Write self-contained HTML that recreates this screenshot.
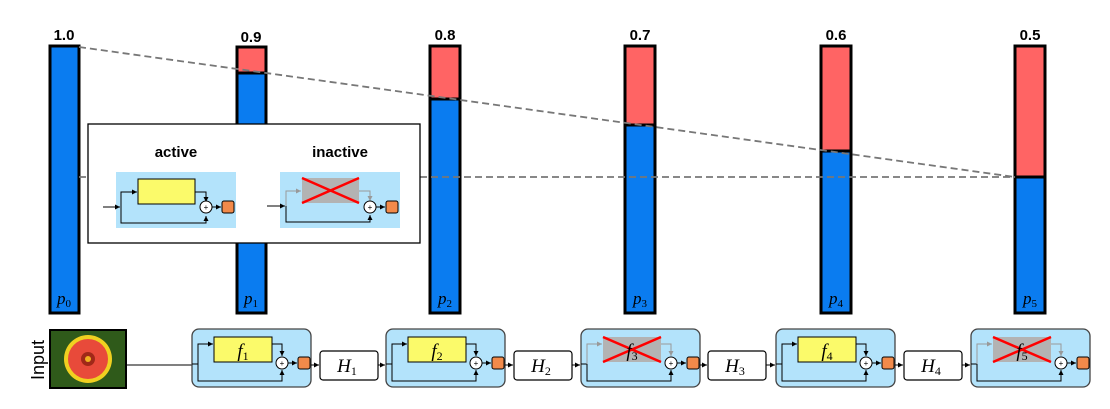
<!DOCTYPE html>
<html><head><meta charset="utf-8"><style>body{margin:0;background:#fff}svg{display:block}</style></head><body>
<svg width="1110" height="409" viewBox="0 0 1110 409" xmlns="http://www.w3.org/2000/svg" font-family="Liberation Sans, sans-serif">
<defs>
<marker id="a" markerWidth="6" markerHeight="6" refX="5" refY="3" orient="auto"><path d="M0,0.5 L5,3 L0,5.5z" fill="#000"/></marker>
<marker id="ag" markerWidth="6" markerHeight="6" refX="5" refY="3" orient="auto"><path d="M0,0.5 L5,3 L0,5.5z" fill="#999"/></marker>
<g id="act">
<rect x="0" y="0" width="119" height="58" rx="7" fill="#b3e3fb" stroke="#444" stroke-width="1.3"/>
<line x1="0" y1="35" x2="6" y2="35" stroke="#000"/>
<polyline points="6,35 6,15 21,15" fill="none" stroke="#000" marker-end="url(#a)"/>
<polyline points="6,35 6,52 90,52 90,41" fill="none" stroke="#000" marker-end="url(#a)"/>
<rect x="22" y="8" width="58" height="25" fill="#fbfa6a" stroke="#000"/>
<polyline points="80,15 90,15 90,27" fill="none" stroke="#000" marker-end="url(#a)"/>
<circle cx="90" cy="34" r="6" fill="#fff" stroke="#000"/>
<text x="90" y="37" font-size="8" text-anchor="middle">+</text>
<line x1="96" y1="34" x2="105" y2="34" stroke="#000" marker-end="url(#a)"/>
<rect x="106" y="28" width="12" height="12" rx="2" fill="#f28a4a" stroke="#000"/>
</g>
<g id="inact">
<rect x="0" y="0" width="119" height="58" rx="7" fill="#b3e3fb" stroke="#444" stroke-width="1.3"/>
<line x1="0" y1="35" x2="6" y2="35" stroke="#000"/>
<polyline points="6,35 6,15 21,15" fill="none" stroke="#999" marker-end="url(#ag)"/>
<polyline points="6,35 6,52 90,52 90,41" fill="none" stroke="#000" marker-end="url(#a)"/>
<rect x="22" y="8" width="58" height="25" fill="#b3b3b3"/>
<polyline points="80,15 90,15 90,27" fill="none" stroke="#999" marker-end="url(#ag)"/>
<circle cx="90" cy="34" r="6" fill="#fff" stroke="#000"/>
<text x="90" y="37" font-size="8" text-anchor="middle">+</text>
<line x1="96" y1="34" x2="105" y2="34" stroke="#000" marker-end="url(#a)"/>
<rect x="106" y="28" width="12" height="12" rx="2" fill="#f28a4a" stroke="#000"/>
</g>
</defs>

<!-- bars -->
<g stroke="#000" stroke-width="3">
<rect x="50" y="46" width="29" height="267" fill="#0a7cf0"/>
<rect x="237" y="47" width="29" height="266" fill="#0a7cf0"/>
<rect x="237" y="47" width="29" height="26" fill="#ff6464"/>
<rect x="430" y="46" width="30" height="267" fill="#0a7cf0"/>
<rect x="430" y="46" width="30" height="53" fill="#ff6464"/>
<rect x="625" y="46" width="30" height="267" fill="#0a7cf0"/>
<rect x="625" y="46" width="30" height="79" fill="#ff6464"/>
<rect x="821" y="46" width="30" height="267" fill="#0a7cf0"/>
<rect x="821" y="46" width="30" height="105" fill="#ff6464"/>
<rect x="1015" y="46" width="30" height="267" fill="#0a7cf0"/>
<rect x="1015" y="46" width="30" height="131" fill="#ff6464"/>
</g>
<g font-size="15" font-weight="bold" text-anchor="middle">
<text x="64" y="40">1.0</text><text x="251" y="42">0.9</text><text x="445" y="40">0.8</text>
<text x="640" y="40">0.7</text><text x="836" y="40">0.6</text><text x="1030" y="40">0.5</text>
</g>
<g font-family="Liberation Serif, serif" font-style="italic" font-size="17" text-anchor="middle">
<text x="64" y="304">p<tspan font-size="11" font-style="normal" dy="3">0</tspan></text>
<text x="251" y="304">p<tspan font-size="11" font-style="normal" dy="3">1</tspan></text>
<text x="445" y="304">p<tspan font-size="11" font-style="normal" dy="3">2</tspan></text>
<text x="640" y="304">p<tspan font-size="11" font-style="normal" dy="3">3</tspan></text>
<text x="836" y="304">p<tspan font-size="11" font-style="normal" dy="3">4</tspan></text>
<text x="1030" y="304">p<tspan font-size="11" font-style="normal" dy="3">5</tspan></text>
</g>
<g stroke="#777" stroke-width="1.8" stroke-dasharray="7,4">
<line x1="79" y1="47" x2="1015" y2="177"/>
<line x1="79" y1="177" x2="1015" y2="177"/>
</g>

<!-- inset -->
<rect x="88" y="124" width="332" height="119" fill="#fff" stroke="#000" stroke-width="1.3"/>
<text x="176" y="157" font-size="15" font-weight="bold" text-anchor="middle">active</text>
<text x="340" y="157" font-size="15" font-weight="bold" text-anchor="middle">inactive</text>
<rect x="116" y="172" width="120" height="56" fill="#b3e3fb"/>
<line x1="103" y1="207" x2="120" y2="207" stroke="#000" marker-end="url(#a)"/>
<polyline points="121,207 121,192 137,192" fill="none" stroke="#000" marker-end="url(#a)"/>
<polyline points="121,207 121,223 206,223 206,216" fill="none" stroke="#000" marker-end="url(#a)"/>
<rect x="138" y="179" width="57" height="25" fill="#fbfa6a" stroke="#000"/>
<polyline points="195,192 206,192 206,202" fill="none" stroke="#000" marker-end="url(#a)"/>
<circle cx="206" cy="207" r="6" fill="#fff" stroke="#000"/>
<text x="206" y="210" font-size="8" text-anchor="middle">+</text>
<line x1="212" y1="207" x2="221" y2="207" stroke="#000" marker-end="url(#a)"/>
<rect x="222" y="201" width="12" height="12" rx="2" fill="#f28a4a" stroke="#000"/>

<rect x="280" y="172" width="120" height="56" fill="#b3e3fb"/>
<line x1="267" y1="206" x2="285" y2="206" stroke="#000" marker-end="url(#a)"/>
<polyline points="286,206 286,191 301,191" fill="none" stroke="#999" marker-end="url(#ag)"/>
<polyline points="286,206 286,222 370,222 370,215" fill="none" stroke="#000" marker-end="url(#a)"/>
<rect x="302" y="178" width="57" height="25" fill="#b3b3b3"/>
<polyline points="359,191 370,191 370,201" fill="none" stroke="#999" marker-end="url(#ag)"/>
<g stroke="#f00" stroke-width="2.5"><line x1="302" y1="178" x2="359" y2="203"/><line x1="302" y1="203" x2="359" y2="178"/></g>
<circle cx="370" cy="207" r="6" fill="#fff" stroke="#000"/>
<text x="370" y="210" font-size="8" text-anchor="middle">+</text>
<line x1="376" y1="207" x2="385" y2="207" stroke="#000" marker-end="url(#a)"/>
<rect x="386" y="201" width="12" height="12" rx="2" fill="#f28a4a" stroke="#000"/>

<!-- bottom -->
<text transform="translate(44,360) rotate(-90)" font-size="18" text-anchor="middle">Input</text>
<rect x="50" y="330" width="76" height="58" fill="#2f5a1a" stroke="#000" stroke-width="2"/>
<circle cx="88" cy="359" r="24" fill="#f0d020"/>
<circle cx="88" cy="359" r="20" fill="#e84a3a"/>
<circle cx="88" cy="359" r="7" fill="#a02818"/>
<circle cx="88" cy="359" r="3" fill="#f0b020"/>
<line x1="126" y1="365" x2="192" y2="365" stroke="#000"/>

<use href="#act" x="192" y="329"/>
<use href="#act" x="386" y="329"/>
<use href="#inact" x="581" y="329"/>
<use href="#act" x="776" y="329"/>
<use href="#inact" x="971" y="329"/>
<g stroke="#f00" stroke-width="2.5">
<line x1="603" y1="337" x2="661" y2="362"/><line x1="603" y1="362" x2="661" y2="337"/>
<line x1="993" y1="337" x2="1051" y2="362"/><line x1="993" y1="362" x2="1051" y2="337"/>
</g>
<g font-family="Liberation Serif, serif" font-style="italic" font-size="19" text-anchor="middle">
<text x="243" y="357">f<tspan font-size="12" font-style="normal" dy="3">1</tspan></text>
<text x="437" y="357">f<tspan font-size="12" font-style="normal" dy="3">2</tspan></text>
<text x="632" y="357">f<tspan font-size="12" font-style="normal" dy="3">3</tspan></text>
<text x="827" y="357">f<tspan font-size="12" font-style="normal" dy="3">4</tspan></text>
<text x="1022" y="357">f<tspan font-size="12" font-style="normal" dy="3">5</tspan></text>
</g>
<g stroke="#000" stroke-width="1.2" fill="#fff">
<rect x="320" y="351" width="58" height="29" rx="3"/>
<rect x="514" y="351" width="58" height="29" rx="3"/>
<rect x="708" y="351" width="58" height="29" rx="3"/>
<rect x="904" y="351" width="58" height="29" rx="3"/>
</g>
<g stroke="#000" marker-end="url(#a)">
<line x1="311" y1="365" x2="319" y2="365"/><line x1="378" y1="365" x2="385" y2="365"/>
<line x1="505" y1="365" x2="513" y2="365"/><line x1="572" y1="365" x2="580" y2="365"/>
<line x1="700" y1="365" x2="707" y2="365"/><line x1="766" y1="365" x2="775" y2="365"/>
<line x1="895" y1="365" x2="903" y2="365"/><line x1="962" y1="365" x2="970" y2="365"/>
</g>
<g font-family="Liberation Serif, serif" font-style="italic" font-size="19" text-anchor="middle">
<text x="347" y="372">H<tspan font-size="12" font-style="normal" dy="3">1</tspan></text>
<text x="541" y="372">H<tspan font-size="12" font-style="normal" dy="3">2</tspan></text>
<text x="735" y="372">H<tspan font-size="12" font-style="normal" dy="3">3</tspan></text>
<text x="931" y="372">H<tspan font-size="12" font-style="normal" dy="3">4</tspan></text>
</g>
</svg>
</body></html>
